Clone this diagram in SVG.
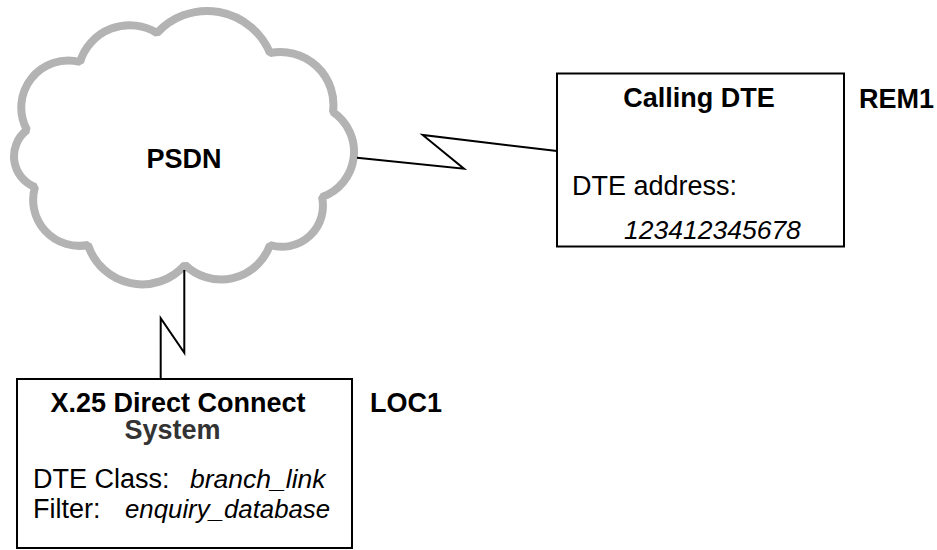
<svg xmlns="http://www.w3.org/2000/svg" width="937" height="550" viewBox="0 0 937 550">
<style>
text{font-family:"Liberation Sans",Arial,Helvetica,sans-serif;fill:#000}
.b{font-weight:bold;font-size:27px}
.r{font-size:27px}
.i{font-size:26.5px;font-style:italic}
.box{fill:#fff;stroke:#000;stroke-width:2}
.link{fill:none;stroke:#000;stroke-width:2;stroke-linejoin:miter}
</style>
<rect width="937" height="550" fill="#fff"/>
<g id="psdn">
<path d="M80,62 A52,52 0 0 1 157,33 A68,68 0 0 1 270,53 A53,53 0 0 1 333,112 A48,48 0 0 1 322,197 A41,41 0 0 1 270,245 A52,52 0 0 1 185,265 A57,57 0 0 1 88,245 A46,46 0 0 1 35,187 A33,33 0 0 1 27,130 A47,47 0 0 1 80,62 Z" fill="#fff" stroke="#b3b3b3" stroke-width="8" stroke-linejoin="bevel"/>
<text class="b" x="184" y="168" text-anchor="middle">PSDN</text>
</g>
<g id="connectors">
<polyline class="link" points="357,157.7 464,168.7 422.7,135 557,151"/>
<polyline class="link" points="184.3,270 184.3,352.7 160.7,318.3 160.7,379"/>
</g>
<g id="rem1">
<rect class="box" x="557" y="73.5" width="287" height="173"/>
<text class="b" x="699" y="107" text-anchor="middle">Calling DTE</text>
<text class="r" x="572" y="195">DTE address:</text>
<text class="i" x="624" y="239">123412345678</text>
<text class="b" x="859" y="108">REM1</text>
</g>
<g id="loc1">
<rect class="box" x="17" y="379" width="335" height="169"/>
<text class="b" x="178" y="411.5" text-anchor="middle">X.25 Direct Connect</text>
<text class="b" x="172.5" y="439" text-anchor="middle" style="fill:#333">System</text>
<text class="r" x="33" y="488">DTE Class:</text>
<text class="i" x="190" y="488">branch_link</text>
<text class="r" x="33" y="518">Filter:</text>
<text class="i" x="125" y="518" style="font-size:25.8px">enquiry_database</text>
<text class="b" x="370" y="412">LOC1</text>
</g>
</svg>
